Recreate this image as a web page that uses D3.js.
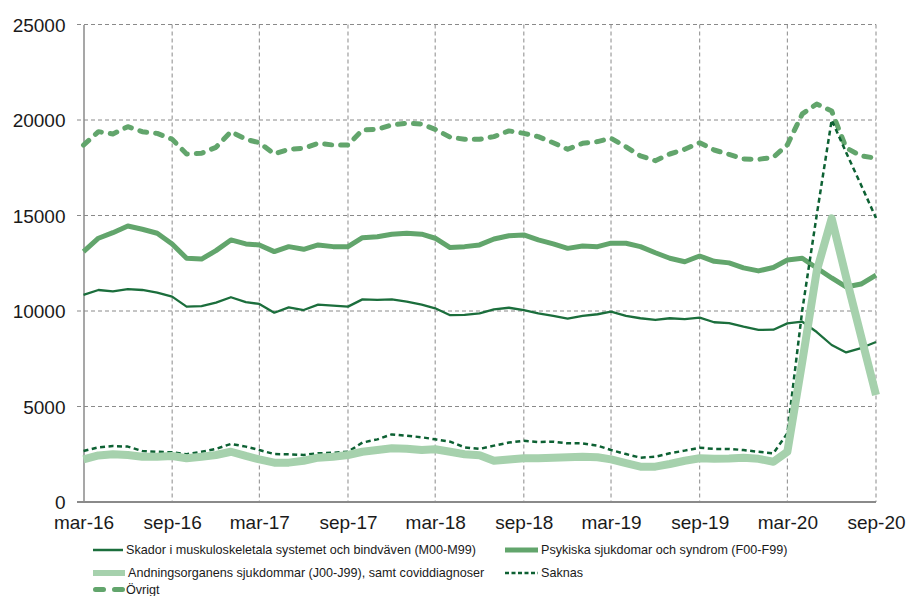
<!DOCTYPE html>
<html>
<head>
<meta charset="utf-8">
<script src="https://cdn.jsdelivr.net/npm/d3@7"></script>
<style>
  html, body { margin: 0; padding: 0; background: #fff; }
  svg { display: block; font-family: "Liberation Sans", Arial, sans-serif; }
</style>
</head>
<body>
<svg id="chart" width="906" height="596"></svg>
<script>
// ---- data ----
const tickLabels = ["mar-16","sep-16","mar-17","sep-17","mar-18","sep-18","mar-19","sep-19","mar-20","sep-20"];
const yTicks = [0, 5000, 10000, 15000, 20000, 25000];

const skador = [10840,11100,11030,11150,11100,10960,10750,10230,10260,10440,10720,10460,10370,9910,10190,10050,10330,10280,10230,10610,10580,10610,10490,10330,10140,9780,9800,9880,10090,10170,10050,9880,9740,9600,9750,9830,9970,9750,9620,9530,9620,9570,9650,9410,9370,9180,9010,9020,9350,9440,8900,8220,7830,8060,8380];
const psykiska = [13110,13810,14100,14450,14280,14070,13510,12760,12720,13160,13720,13510,13460,13110,13370,13230,13460,13370,13370,13840,13890,14020,14070,14020,13810,13320,13370,13460,13770,13940,13980,13720,13510,13280,13400,13370,13550,13550,13370,13050,12760,12580,12880,12600,12520,12260,12100,12280,12670,12760,12250,11730,11260,11410,11880];
const andning = [2230,2440,2500,2460,2370,2370,2410,2290,2370,2460,2630,2410,2230,2060,2060,2160,2320,2370,2460,2630,2720,2810,2790,2720,2760,2630,2500,2450,2160,2230,2290,2290,2320,2340,2370,2340,2230,2030,1850,1850,1990,2160,2290,2260,2280,2320,2260,2110,2630,7350,12100,14850,11770,8680,5600];
const saknas = [2670,2860,2930,2900,2670,2630,2600,2500,2630,2780,3040,2900,2720,2510,2500,2460,2550,2580,2630,3110,3280,3540,3470,3390,3280,3160,2860,2780,2950,3110,3210,3140,3160,3070,3070,2950,2720,2510,2320,2370,2550,2690,2840,2780,2780,2720,2630,2550,3600,10050,15030,20000,18300,16600,14870];
const ovrigt = [18690,19390,19270,19650,19390,19300,18990,18220,18260,18570,19390,18990,18810,18220,18470,18520,18780,18690,18690,19480,19510,19740,19830,19790,19510,19100,18990,18990,19130,19430,19300,19130,18810,18470,18780,18870,19040,18600,18120,17870,18220,18470,18810,18430,18200,17960,17940,18050,18700,20320,20840,20470,18540,18120,18000];

const seriesNames = [
  "Skador i muskuloskeletala systemet och bindväven (M00-M99)",
  "Psykiska sjukdomar och syndrom (F00-F99)",
  "Andningsorganens sjukdommar (J00-J99), samt coviddiagnoser",
  "Saknas",
  "Övrigt"
];

// ---- setup ----
const start = new Date(2016, 2, 1);
const months = d3.range(skador.length).map(i => d3.timeMonth.offset(start, i));

const svg = d3.select("#chart");
const plotLeft = 83.5, plotRight = 876, plotTop = 24.5, plotBottom = 502;

const x = d3.scaleTime().domain([months[0], months[months.length - 1]]).range([plotLeft, plotRight]);
const y = d3.scaleLinear().domain([0, 25000]).range([plotBottom, plotTop]);

const gridColor = "#8a8a8a";

// horizontal gridlines
svg.append("g").selectAll("line").data(yTicks.filter(v => v > 0)).join("line")
  .attr("x1", 77).attr("x2", plotRight)
  .attr("y1", d => y(d)).attr("y2", d => y(d))
  .attr("stroke", gridColor).attr("stroke-width", 1).attr("stroke-dasharray", "4,3");

// vertical gridlines
const tickDates = tickLabels.map((t, i) => d3.timeMonth.offset(start, i * 6));
svg.append("g").selectAll("line").data(tickDates.slice(1)).join("line")
  .attr("x1", d => x(d)).attr("x2", d => x(d))
  .attr("y1", plotTop).attr("y2", plotBottom)
  .attr("stroke", gridColor).attr("stroke-width", 1).attr("stroke-dasharray", "4,3");

// axes
const yAxis = d3.axisLeft(y).tickValues(yTicks).tickSize(0).tickFormat(d3.format("d")).tickPadding(18);
const gy = svg.append("g").attr("transform", `translate(${plotLeft},0)`).call(yAxis);
gy.select(".domain").attr("stroke", "#8a8a8a").attr("stroke-width", 1.5);
gy.selectAll("text").attr("font-size", 19).attr("fill", "#1a1a1a")
  .attr("font-family", "Liberation Sans, Arial, sans-serif").attr("dy", "0.36em");

const xAxis = d3.axisBottom(x).tickValues(tickDates).tickSize(0)
  .tickFormat((d, i) => tickLabels[i]).tickPadding(14);
const gx = svg.append("g").attr("transform", `translate(0,${plotBottom})`).call(xAxis);
gx.select(".domain").remove();
gx.selectAll("text").attr("font-size", 19).attr("fill", "#1a1a1a")
  .attr("font-family", "Liberation Sans, Arial, sans-serif");
svg.append("line").attr("x1", 77).attr("x2", plotRight).attr("y1", plotBottom).attr("y2", plotBottom)
  .attr("stroke", "#8a8a8a").attr("stroke-width", 2);

// ---- lines ----
const line = d3.line().x((d, i) => x(months[i])).y(d => y(d));

const styles = [
  { data: skador,   color: "#1b6e3c", width: 2.3, dash: null, cap: "butt" },
  { data: psykiska, color: "#62a56c", width: 5,   dash: null, cap: "butt" },
  { data: andning,  color: "#a6d1ad", width: 8,   dash: null, cap: "butt" },
  { data: saknas,   color: "#0d6133", width: 2.5, dash: "5,3.5", cap: "butt" },
  { data: ovrigt,   color: "#62a56c", width: 5,   dash: "7,9", cap: "round" }
];
// draw order
[4, 1, 0, 3, 2].forEach(k => {
  const s = styles[k];
  svg.append("path").datum(s.data)
    .attr("d", line).attr("fill", "none")
    .attr("stroke", s.color).attr("stroke-width", s.width)
    .attr("stroke-linejoin", "round").attr("stroke-linecap", s.cap)
    .attr("stroke-dasharray", s.dash);
});

// ---- legend ----
const legendPos = [
  { x: 93, y: 550, len: 30 },
  { x: 505, y: 550, len: 33 },
  { x: 93, y: 573, len: 32 },
  { x: 505, y: 573, len: 33 },
  { x: 93, y: 589.5, len: 30 }
];
const legendDash = [null, null, null, "4,2.5", "7,6"];
const legendWidth = [2.5, 5, 6, 2.5, 5];
seriesNames.forEach((name, k) => {
  const p = legendPos[k], s = styles[k];
  svg.append("line")
    .attr("x1", p.x + (k === 4 ? 2.5 : 0)).attr("x2", p.x + p.len).attr("y1", p.y).attr("y2", p.y)
    .attr("stroke", s.color).attr("stroke-width", legendWidth[k])
    .attr("stroke-linecap", k === 4 ? "round" : "butt")
    .attr("stroke-dasharray", k === 4 ? "8,11" : legendDash[k]);
  svg.append("text").attr("x", p.x + p.len + 3).attr("y", p.y + 4.3)
    .attr("font-size", 12.6).attr("fill", "#1a1a1a").text(name);
});
</script>
</body>
</html>
